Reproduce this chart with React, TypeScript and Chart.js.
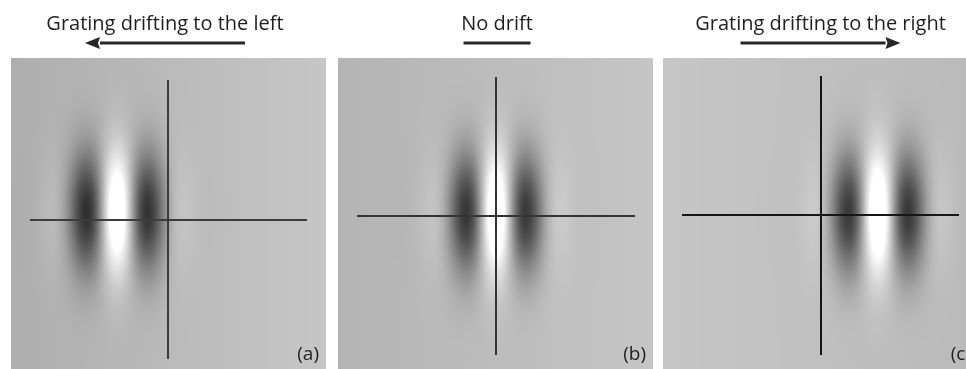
import React, { useEffect, useRef } from 'react';
import { Chart, registerables } from 'chart.js';

Chart.register(...registerables);

// ---- data ----
const panelLabels = ['(a)', '(b)', '(c)'];
const panelTitles = ['Grating drifting to the left', 'No drift', 'Grating drifting to the right'];
const driftDirection = [-1, 0, 1];

// receptive-field (Gabor) parameters, in panel data units
const gaborCenterX = [106, 158, 215];
const gaborCenterY = [154, 155, 155];
const gaborWavelength = [72, 70, 70];
const gaborSigmaX = [31, 31, 31];
const gaborSigmaY = [42, 42, 42];
const gaborCarrierAmp = [172, 168, 168];
const gaborSurroundAmp = [62, 60, 60];
const backgroundLeft = [174, 180, 198];
const backgroundRight = [198, 197, 186];

// crosshair lines, in panel data units
const crossX = [157, 158, 158];
const crossY = [162, 158, 157];
const crossTop = [22, 19, 18];
const crossBottom = [301, 297, 297];
const crossLeft = [19, 19, 19];
const crossRight = [296, 297, 296];

const labelX = 308;
const labelY = 302;

const X_MAX = 315;
const Y_MAX = 311;

// ---- layout ----
const CANVAS_W = 330;
const CANVAS_H = 369;
const canvasLeft = [0, 330, 655];
const padLeft = [11, 8, 8];
const titleShift = [-3.5, 1.5, 0];
const lineColors = ['#3c3c3c', '#343434', '#161616'];

function makeFieldPlugin(i: number) {
  return {
    id: 'field' + i,
    beforeDatasetsDraw(chart: any) {
      const { ctx, chartArea } = chart;
      const xs = chart.scales.x;
      const ys = chart.scales.y;
      const left = Math.round(chartArea.left);
      const top = Math.round(chartArea.top);
      const w = Math.round(chartArea.right - chartArea.left);
      const h = Math.round(chartArea.bottom - chartArea.top);
      const off = document.createElement('canvas');
      off.width = w;
      off.height = h;
      const octx = off.getContext('2d')!;
      const img = octx.createImageData(w, h);
      const cx = gaborCenterX[i];
      const cy = gaborCenterY[i];
      const lam = gaborWavelength[i];
      const sx = gaborSigmaX[i];
      const sy = gaborSigmaY[i];
      const a = gaborCarrierAmp[i];
      const b = gaborSurroundAmp[i];
      const bL = backgroundLeft[i];
      const bR = backgroundRight[i];
      for (let py = 0; py < h; py++) {
        const yv = ys.getValueForPixel(top + py + 0.5);
        const dy = yv - cy;
        const ey = Math.exp(-(dy * dy) / (2 * sy * sy));
        for (let px = 0; px < w; px++) {
          const xv = xs.getValueForPixel(left + px + 0.5);
          const t = xv / X_MAX;
          const bg = bL + (bR - bL) * t;
          const dx = xv - cx;
          const env = Math.exp(-(dx * dx) / (2 * sx * sx)) * ey;
          const g = env * (a * Math.cos((2 * Math.PI * dx) / lam) - b);
          let v = bg + g;
          if (v > 255) v = 255;
          if (v < 0) v = 0;
          const k = (py * w + px) * 4;
          img.data[k] = v;
          img.data[k + 1] = v;
          img.data[k + 2] = v;
          img.data[k + 3] = 255;
        }
      }
      octx.putImageData(img, 0, 0);
      ctx.save();
      ctx.drawImage(off, left, top, w, h);
      ctx.restore();
    },
    afterDraw(chart: any) {
      const { ctx, chartArea } = chart;
      const xs = chart.scales.x;
      const ys = chart.scales.y;
      const cxp = (chartArea.left + chartArea.right) / 2 + titleShift[i];
      ctx.save();
      ctx.fillStyle = '#1e1e1e';
      ctx.font = '20px "Open Sans"';
      ctx.textAlign = 'center';
      ctx.textBaseline = 'alphabetic';
      ctx.fillText(panelTitles[i], cxp, 30);

      // arrow / bar
      const dir = driftDirection[i];
      const half = dir === 0 ? 33.5 : 80;
      const y = 43;
      ctx.strokeStyle = '#262626';
      ctx.fillStyle = '#262626';
      ctx.lineWidth = 3;
      ctx.beginPath();
      if (dir === 0) {
        ctx.moveTo(cxp - half, y);
        ctx.lineTo(cxp + half, y);
        ctx.stroke();
      } else {
        const tip = cxp + dir * half;
        const tail = cxp - dir * half;
        const base = tip - dir * 15;
        ctx.moveTo(tail, y);
        ctx.lineTo(base, y);
        ctx.stroke();
        ctx.beginPath();
        ctx.moveTo(tip, y);
        ctx.lineTo(base, y - 6);
        ctx.lineTo(base + dir * 2, y);
        ctx.lineTo(base, y + 6);
        ctx.closePath();
        ctx.fill();
      }

      // panel label
      ctx.fillStyle = '#1e1e1e';
      ctx.font = '19px "Open Sans"';
      ctx.textAlign = 'right';
      ctx.fillText(panelLabels[i], xs.getPixelForValue(labelX), ys.getPixelForValue(labelY));
      ctx.restore();
    },
  };
}

function Panel({ i }: { i: number }) {
  const ref = useRef<HTMLCanvasElement | null>(null);
  useEffect(() => {
    if (!ref.current) return;
    const chart = new Chart(ref.current, {
      type: 'scatter',
      data: {
        datasets: [
          {
            data: [
              { x: crossX[i], y: crossTop[i] },
              { x: crossX[i], y: crossBottom[i] },
            ],
            showLine: true,
            borderColor: lineColors[i],
            borderWidth: 2,
            pointRadius: 0,
          },
          {
            data: [
              { x: crossLeft[i], y: crossY[i] },
              { x: crossRight[i], y: crossY[i] },
            ],
            showLine: true,
            borderColor: lineColors[i],
            borderWidth: 2,
            pointRadius: 0,
          },
        ],
      },
      options: {
        responsive: false,
        animation: false,
        devicePixelRatio: 1,
        layout: {
          padding: {
            left: padLeft[i],
            right: CANVAS_W - padLeft[i] - X_MAX,
            top: CANVAS_H - Y_MAX,
            bottom: 0,
          },
        },
        scales: {
          x: { type: 'linear', min: 0, max: X_MAX, display: false },
          y: { type: 'linear', min: 0, max: Y_MAX, reverse: true, display: false },
        },
        plugins: {
          legend: { display: false },
          tooltip: { enabled: false },
          title: { display: false },
        },
        events: [],
      },
      plugins: [makeFieldPlugin(i)],
    } as any);
    return () => chart.destroy();
  }, [i]);
  return (
    <canvas
      ref={ref}
      width={CANVAS_W}
      height={CANVAS_H}
      style={{ position: 'absolute', left: canvasLeft[i], top: 0, width: CANVAS_W, height: CANVAS_H }}
    />
  );
}

export default function App() {
  return (
    <div
      style={{
        position: 'fixed',
        left: 0,
        top: 0,
        width: 966,
        height: 369,
        overflow: 'hidden',
        background: '#ffffff',
      }}
    >
      {[0, 1, 2].map((i) => (
        <Panel key={i} i={i} />
      ))}
    </div>
  );
}
